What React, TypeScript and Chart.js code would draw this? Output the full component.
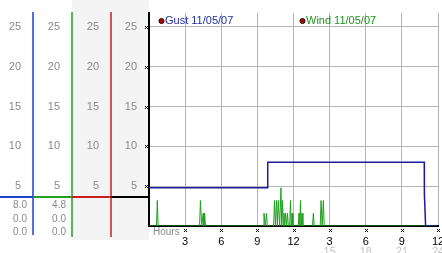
import React, { useEffect, useRef } from 'react';
import { Chart, registerables } from 'chart.js';

Chart.register(...registerables);

const seriesLabels = ['Gust 11/05/07', 'Wind 11/05/07'];
const seriesColors = ['#1c1c9c', '#1ea01e'];
const legendTextColors = ['#2030a0', '#1a961a'];

const gustHours = [0, 9.83, 9.86, 22.86, 22.87, 22.97, 23.88];
const gustSpeeds = [4.8, 4.8, 8.0, 8.0, 4.0, 0, 0];

const windHours = [
  0, 0.62, 0.69, 0.76,
  4.2, 4.27, 4.38, 4.5, 4.56, 4.62, 4.69,
  9.48, 9.55, 9.65, 9.76, 9.83,
  10.35, 10.42, 10.5, 10.59, 10.66, 10.74, 10.85, 10.96, 11.02, 11.09, 11.15,
  11.21, 11.27, 11.34, 11.42, 11.5, 11.57, 11.68, 11.75, 11.81, 11.88, 11.95,
  12.39, 12.46, 12.52, 12.58, 12.64, 12.71, 12.78,
  13.58, 13.65, 13.72,
  14.22, 14.29, 14.38, 14.48, 14.55,
  23.88,
];
const windSpeeds = [
  0, 0, 3.2, 0,
  0, 3.2, 0, 1.6, 0, 1.6, 0,
  0, 1.6, 0, 1.6, 0,
  0, 3.2, 0, 3.2, 0, 3.2, 0, 4.8, 0, 3.2, 0,
  1.6, 0, 1.6, 0, 1.6, 0, 0, 3.2, 0, 1.6, 0,
  0, 1.6, 0, 3.2, 0, 1.6, 0,
  0, 1.6, 0,
  0, 3.2, 0, 3.2, 0,
  0,
];

const xTickValues = [0, 3, 6, 9, 12, 15, 18, 21, 24];
const xTickLabels = ['', '3', '6', '9', '12', '3', '6', '9', '12'];
const xTickLabels24 = ['', '', '', '', '', '15', '18', '21', '24'];
const yTickValues = [0, 5, 10, 15, 20, 25];
const xAxisTitle = 'Hours';
const readoutGust = ['8.0', '0.0', '0.0'];
const readoutWind = ['4.8', '0.0', '0.0'];

const FONT = 'Liberation Sans, Arial, sans-serif';

function checker(ctx: CanvasRenderingContext2D, x: number, y: number) {
  const pts = [[0, 0], [2, 0], [1, 1], [0, 2], [2, 2]];
  ctx.fillStyle = '#000';
  for (const [dx, dy] of pts) ctx.fillRect(Math.round(x) + dx, Math.round(y) + dy, 1, 1);
}

const panelPlugin = {
  id: 'panelPlugin',
  beforeDraw(chart: any) {
    const ctx = chart.ctx as CanvasRenderingContext2D;
    const c3 = chart.scales.c3;
    const y = chart.scales.y;
    ctx.save();
    ctx.fillStyle = '#f4f4f4';
    ctx.fillRect(c3.left, 0, y.right - c3.left, chart.chartArea.bottom + 14);
    ctx.restore();
  },
  afterDraw(chart: any) {
    const ctx = chart.ctx as CanvasRenderingContext2D;
    const area = chart.chartArea;
    const cols = [
      { s: chart.scales.c1, color: '#1f3fd0', readouts: readoutGust, bottom: area.bottom + 9 },
      { s: chart.scales.c2, color: '#22a022', readouts: readoutWind, bottom: area.bottom + 11 },
      { s: chart.scales.c3, color: '#c81e1e', readouts: [] as string[], bottom: area.bottom + 11 },
      { s: chart.scales.y, color: '#000000', readouts: [] as string[], bottom: area.bottom },
    ];
    const barY = area.bottom - 29;
    ctx.save();
    cols.slice(0, 3).forEach((c) => {
      ctx.strokeStyle = c.color;
      ctx.lineWidth = 1.5;
      ctx.beginPath();
      ctx.moveTo(c.s.right, area.top - 1);
      ctx.lineTo(c.s.right, c.bottom);
      ctx.stroke();
    });
    cols.forEach((c) => {
      ctx.strokeStyle = c.color;
      ctx.lineWidth = 2;
      ctx.beginPath();
      ctx.moveTo(c.s.left, barY);
      ctx.lineTo(c.s.right, barY);
      ctx.stroke();
    });
    ctx.font = `10px ${FONT}`;
    ctx.fillStyle = '#8a8a8a';
    ctx.textAlign = 'right';
    ctx.textBaseline = 'middle';
    cols.forEach((c) => {
      c.readouts.forEach((t, i) => {
        ctx.fillText(t, c.s.right - 6, barY + 8 + i * 13.8);
      });
    });
    const ys = chart.scales.y;
    yTickValues.forEach((v) => {
      if (v === 0) return;
      checker(ctx, ys.right - 4, ys.getPixelForValue(v) - 1);
    });
    const xs = chart.scales.x;
    ctx.font = `11px ${FONT}`;
    ctx.textAlign = 'center';
    ctx.textBaseline = 'top';
    xTickValues.forEach((v, i) => {
      const px = xs.getPixelForValue(v);
      if (v !== 0) checker(ctx, px - 1, area.bottom + 3);
      ctx.fillStyle = '#c4c4c4';
      if (xTickLabels24[i]) ctx.fillText(xTickLabels24[i], px, area.bottom + 20);
    });
    ctx.font = `10px ${FONT}`;
    ctx.fillStyle = '#8a8a8a';
    ctx.textAlign = 'left';
    ctx.fillText(xAxisTitle, area.left + 4, area.bottom + 1);
    const legendOffsets = [10, 151];
    chart.data.datasets.forEach((ds: any, i: number) => {
      const lx = area.left + legendOffsets[i];
      const ly = area.top + 8;
      ctx.beginPath();
      ctx.arc(lx + 2.5, ly, 2.6, 0, Math.PI * 2);
      ctx.fillStyle = '#b00000';
      ctx.fill();
      ctx.lineWidth = 0.8;
      ctx.strokeStyle = '#000';
      ctx.stroke();
      ctx.font = `11px ${FONT}`;
      ctx.fillStyle = legendTextColors[i];
      ctx.textAlign = 'left';
      ctx.textBaseline = 'middle';
      ctx.fillText(ds.label, lx + 6, ly);
    });
    ctx.restore();
  },
};

function sideAxis(weight: number, width: number) {
  return {
    type: 'linear' as const,
    position: 'left' as const,
    weight,
    min: 0,
    max: 26.75,
    afterBuildTicks: (s: any) => {
      s.ticks = yTickValues.map((v) => ({ value: v }));
    },
    afterFit: (s: any) => {
      s.width = width;
      s.paddingTop = 0;
      s.paddingBottom = 0;
    },
    ticks: {
      callback: (v: any) => (v === 0 ? '' : String(v)),
      color: '#8a8a8a',
      padding: 12,
      font: { size: 11, family: FONT },
    },
    grid: { display: false, drawTicks: false },
    border: { display: false },
  };
}

export default function App() {
  const ref = useRef<HTMLCanvasElement | null>(null);
  useEffect(() => {
    if (!ref.current) return;
    const chart = new Chart(ref.current, {
      type: 'line',
      data: {
        datasets: [
          {
            label: seriesLabels[0],
            data: gustHours.map((h, i) => ({ x: h, y: gustSpeeds[i] })),
            borderColor: seriesColors[0],
            borderWidth: 1.5,
            pointRadius: 0,
            tension: 0,
            order: 0,
          },
          {
            label: seriesLabels[1],
            data: windHours.map((h, i) => ({ x: h, y: windSpeeds[i] })),
            borderColor: seriesColors[1],
            borderWidth: 1,
            pointRadius: 0,
            tension: 0,
            order: 1,
          },
        ],
      },
      options: {
        animation: false,
        responsive: false,
        devicePixelRatio: 1,
        layout: { padding: { left: 0, right: 4, top: 13, bottom: 0 } },
        plugins: { legend: { display: false }, tooltip: { enabled: false } },
        scales: {
          x: {
            type: 'linear',
            position: 'bottom',
            min: 0,
            max: 24,
            afterBuildTicks: (s: any) => {
              s.ticks = xTickValues.map((v) => ({ value: v }));
            },
            afterFit: (s: any) => {
              s.height = 27;
              s.paddingLeft = 0;
              s.paddingRight = 0;
            },
            ticks: {
              autoSkip: false,
              maxRotation: 0,
              padding: 9,
              color: '#000',
              font: { size: 11, family: FONT },
              callback: (v: any) => {
                const i = xTickValues.indexOf(Number(v));
                return i >= 0 ? xTickLabels[i] : '';
              },
            },
            grid: { color: '#b4b4b4', drawTicks: false, lineWidth: 1 },
            border: { color: '#000', width: 2 },
          },
          y: {
            ...sideAxis(1, 38),
            grid: { display: true, color: '#b4b4b4', drawTicks: false, lineWidth: 1 },
            border: { display: true, color: '#000', width: 2 },
          },
          c3: sideAxis(2, 39),
          c2: sideAxis(3, 39),
          c1: sideAxis(4, 33),
        },
      },
      plugins: [panelPlugin],
    } as any);
    return () => chart.destroy();
  }, []);
  return (
    <div style={{ position: 'fixed', left: 0, top: 0, width: 442, height: 253, background: '#fff' }}>
      <canvas ref={ref} width={442} height={253} style={{ display: 'block' }} />
    </div>
  );
}
